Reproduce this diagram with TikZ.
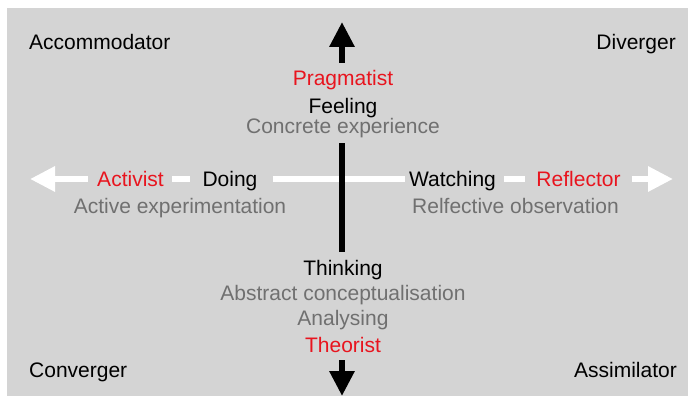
\documentclass[tikz,border=0pt]{standalone}
\usepackage{fontspec}
\setmainfont{Liberation Sans}
\usetikzlibrary{arrows.meta}
\definecolor{bg}{HTML}{D4D4D4}
\definecolor{lred}{HTML}{E8141E}
\definecolor{lgray}{HTML}{707070}
\begin{document}
\begin{tikzpicture}[x=1pt,y=-1pt,
  lbl/.style={inner sep=0pt, anchor=base, font=\fontsize{21}{25}\selectfont},
  redt/.style={lbl, text=lred},
  blackt/.style={lbl, text=black},
  grayt/.style={lbl, text=lgray},
  whiteline/.style={draw=white, line width=6pt},
  blackline/.style={draw=black, line width=6pt},
  bigtip/.style={-{Triangle[length=25pt,width=24pt]}}
]
\useasboundingbox (0,0) rectangle (688,404);
\fill[white] (0,0) rectangle (688,404);
\fill[bg] (7,8) rectangle (688,396);

% corner labels
\node[blackt, anchor=base west] (acc) at (29,50) {Accommodator};
\node[blackt, anchor=base east] (div) at (676,50) {Diverger};
\node[blackt, anchor=base west] (con) at (29,377) {Converger};
\node[blackt, anchor=base east] (ass) at (677,377) {Assimilator};

% vertical axis labels
\node[redt] (prag) at (343,85) {Pragmatist};
\node[blackt] (feel) at (343,113) {Feeling};
\node[grayt] (conc) at (343,133) {Concrete experience};
\node[blackt] (think) at (343,275) {Thinking};
\node[grayt] (abst) at (343,300) {Abstract conceptualisation};
\node[grayt] (anal) at (343,325) {Analysing};
\node[redt] (theo) at (343,352) {Theorist};

% horizontal axis labels
\node[redt] (act) at (130.5,186) {Activist};
\node[blackt] (doing) at (230,186) {Doing};
\node[blackt] (watch) at (452.5,186) {Watching};
\node[redt] (refl) at (578.5,186) {Reflector};
\node[grayt] (actexp) at (180,213) {Active experimentation};
\node[grayt] (refobs) at (515.5,213) {Relfective observation};

% coordinates
\coordinate (hl) at (0,179);
\coordinate (ltip) at (30,179);
\coordinate (rtip) at (673,179);
\coordinate (ttip) at (342,22);
\coordinate (btip) at (342,396);

% horizontal white axis
\draw[whiteline, bigtip, shorten <=9pt] (act.west |- hl) -- (ltip);
\draw[whiteline, shorten <=8pt, shorten >=12pt] (act.east |- hl) -- (doing.west |- hl);
\draw[whiteline, shorten <=15pt, shorten >=4pt] (doing.east |- hl) -- (watch.west |- hl);
\draw[whiteline, shorten <=8pt, shorten >=11pt] (watch.east |- hl) -- (refl.west |- hl);
\draw[whiteline, bigtip, shorten <=11pt] (refl.east |- hl) -- (rtip);

% vertical black axis
\draw[blackline, bigtip] (ttip |- 0,63) -- (ttip);
\draw[blackline] (ttip |- 0,143) -- (ttip |- 0,252);
\draw[blackline, bigtip] (btip |- 0,360) -- (btip);
\end{tikzpicture}
\end{document}
